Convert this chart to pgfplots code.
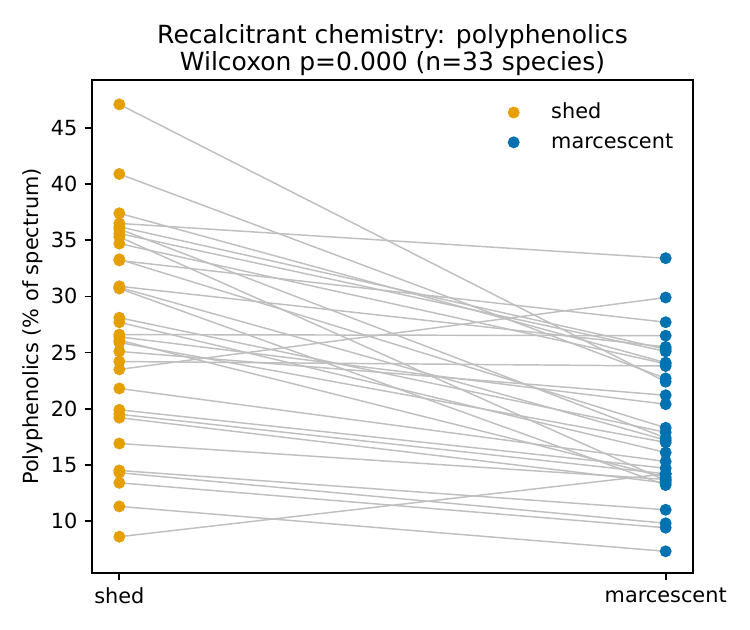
\documentclass[border=0pt]{standalone}
\usepackage{pgfplots}
\pgfplotsset{compat=1.18}
\usepackage{pgfplotstable}
\usepackage{fontspec}
\setmainfont{DejaVu Sans}

\definecolor{shedc}{HTML}{E69F00}
\definecolor{marcc}{HTML}{0072B2}
\definecolor{pairline}{HTML}{BFBFBF}

% Polyphenolic fraction (% of spectrum) per species, shed vs marcescent leaves
\pgfplotstableread{
shed marc
47.1 22.4
40.9 22.7
37.4 24.1
36.5 33.4
36.2 25.3
36.0 17.4
35.6 25.1
35.3 13.6
34.7 24.0
33.3 18.3
33.2 27.7
30.9 25.5
30.8 17.2
30.7 13.2
28.1 17.9
27.7 16.1
26.6 26.5
26.4 20.4
26.1 13.9
25.9 17.0
25.1 21.2
24.2 23.8
23.5 29.9
21.8 15.3
19.9 14.7
19.5 14.2
19.2 13.4
16.9 13.7
14.5 11.0
14.3 9.8
13.4 9.4
11.3 7.3
8.6 14.2
}\pairs

\begin{document}
\begin{tikzpicture}
\begin{axis}[
  at={(0,0)}, anchor=south west,
  scale only axis, width=288.48pt, height=236.64pt,
  xmin=-0.05, xmax=1.05, ymin=5.37, ymax=49.27,
  xtick={0,1}, xticklabels={shed,marcescent},
  ytick={10,15,...,45},
  tick align=outside, xtick pos=bottom, ytick pos=left,
  major tick length=3.5pt,
  every tick/.style={black, line width=0.8pt},
  axis line style={line width=0.8pt},
  tick label style={font=\fontsize{10}{12}\selectfont},
  /pgf/number format/assume math mode=true,
  ylabel={Polyphenolics (\% of spectrum)},
  every axis y label/.style={at={([xshift=-28.5pt]rel axis cs:0,0.5)}, rotate=90, anchor=center, font=\fontsize{10}{12}\selectfont},
  title={Recalcitrant chemistry: polyphenolics\\Wilcoxon p=0.000 (n=33 species)},
  title style={align=center, font=\fontsize{12}{13}\selectfont, yshift=-7.4pt},
  legend style={at={(rel axis cs:0.985,0.971)}, anchor=north east, draw=none, fill=none,
    font=\fontsize{10}{12}\selectfont, row sep=1.5pt, cells={anchor=west}},
  legend image code/.code={\draw[#1] plot coordinates {(0pt,0pt)}; \path[draw=none] (0pt,0pt) -- (16pt,0pt);},
]
% one segment per species, from its shed value to its marcescent value
\addplot[pairline, line width=0.7pt, quiver={u=1, v=\thisrow{marc}-\thisrow{shed}}, forget plot]
  table[x expr=0, y=shed] {\pairs};
\addplot[only marks, mark=*, mark size=2.65pt, mark options={draw=shedc, fill=shedc}]
  table[x expr=0, y=shed] {\pairs};
\addlegendentry{shed}
\addplot[only marks, mark=*, mark size=2.65pt, mark options={draw=marcc, fill=marcc}]
  table[x expr=1, y=marc] {\pairs};
\addlegendentry{marcescent}
\end{axis}
\pgfresetboundingbox
\path (-44.16pt,-27.36pt) rectangle (315.84pt,275.04pt);
\end{tikzpicture}
\end{document}
